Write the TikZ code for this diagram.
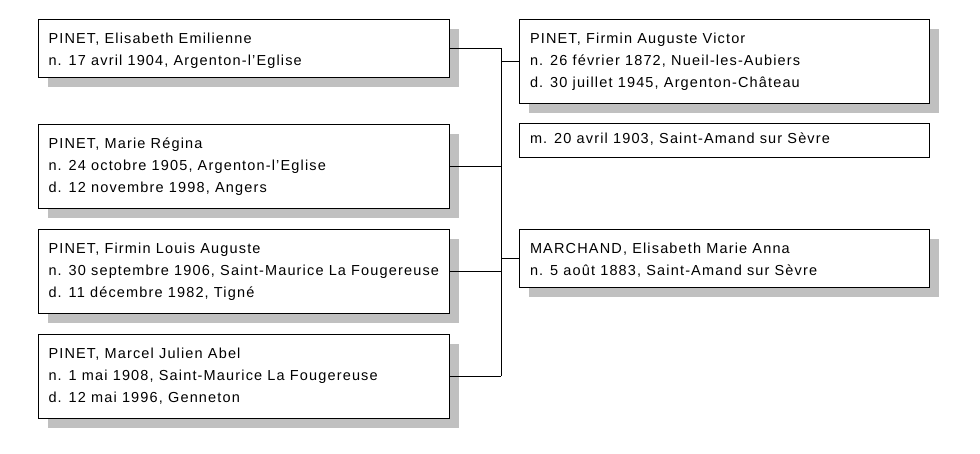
\documentclass[tikz,border=0pt]{standalone}
\usepackage{fontspec}
\setmainfont{Liberation Sans}[LetterSpace=8]
\usetikzlibrary{shadows,positioning}
\definecolor{shadowgray}{HTML}{C0C0C0}
\newcommand{\boxlines}[1]{\parbox[t]{400pt}{\raggedright\fontsize{14.5pt}{22pt}\selectfont #1}}
\tikzset{
  pbox/.style={draw=black, fill=white, line width=1pt, anchor=north west, inner sep=0pt, outer sep=0pt},
  shad/.style={drop shadow={shadow xshift=10pt, shadow yshift=-10pt, fill=shadowgray, opacity=1, shadow scale=1}},
  txt/.style={anchor=base west, inner sep=0pt, outer sep=0pt},
  conn/.style={draw=black, line width=1pt}
}
\begin{document}
\begin{tikzpicture}[x=1pt, y=-1pt]
\useasboundingbox (0,0) rectangle (980,453);
% left boxes
\node[pbox, shad, minimum width=411pt, minimum height=58pt] (b1) at (38,19) {};
\node[pbox, shad, minimum width=411pt, minimum height=84pt] (b2) at (38,124) {};
\node[pbox, shad, minimum width=411pt, minimum height=84pt] (b3) at (38,229) {};
\node[pbox, shad, minimum width=411pt, minimum height=84pt] (b4) at (38,334) {};
% right boxes
\node[pbox, shad, minimum width=410pt, minimum height=84pt] (f) at (519,19) {};
\node[pbox, minimum width=410pt, minimum height=34pt] (m) at (519,123) {};
\node[pbox, shad, minimum width=410pt, minimum height=58pt] (w) at (519,229) {};
% texts
\node[txt] (t1) at ([shift={(10.5,24)}]b1.north west) {\boxlines{PINET, Elisabeth Emilienne\\n. 17 avril 1904, Argenton-l'Eglise}};
\node[txt] (t2) at ([shift={(10.5,24)}]b2.north west) {\boxlines{PINET, Marie Régina\\n. 24 octobre 1905, Argenton-l'Eglise\\d. 12 novembre 1998, Angers}};
\node[txt] (t3) at ([shift={(10.5,24)}]b3.north west) {\boxlines{PINET, Firmin Louis Auguste\\n. 30 septembre 1906, Saint-Maurice La Fougereuse\\d. 11 décembre 1982, Tigné}};
\node[txt] (t4) at ([shift={(10.5,24)}]b4.north west) {\boxlines{PINET, Marcel Julien Abel\\n. 1 mai 1908, Saint-Maurice La Fougereuse\\d. 12 mai 1996, Genneton}};
\node[txt] (tf) at ([shift={(11,24)}]f.north west) {\boxlines{PINET, Firmin Auguste Victor\\n. 26 février 1872, Nueil-les-Aubiers\\d. 30 juillet 1945, Argenton-Château}};
\node[txt] (tm) at ([shift={(11,20)}]m.north west) {\boxlines{m. 20 avril 1903, Saint-Amand sur Sèvre}};
\node[txt] (tw) at ([shift={(11,24)}]w.north west) {\boxlines{MARCHAND, Elisabeth Marie Anna\\n. 5 août 1883, Saint-Amand sur Sèvre}};
% connectors
\coordinate (vx) at (501,0);
\draw[conn] (b1.east) -- (b1.east -| vx);
\draw[conn] (b2.east) -- (b2.east -| vx);
\draw[conn] (b3.east) -- (b3.east -| vx);
\draw[conn] (b4.east) -- (b4.east -| vx);
\draw[conn] (b1.east -| vx) -- (b4.east -| vx);
\draw[conn] (f.west -| vx) -- (f.west);
\draw[conn] (w.west -| vx) -- (w.west);
\end{tikzpicture}
\end{document}
